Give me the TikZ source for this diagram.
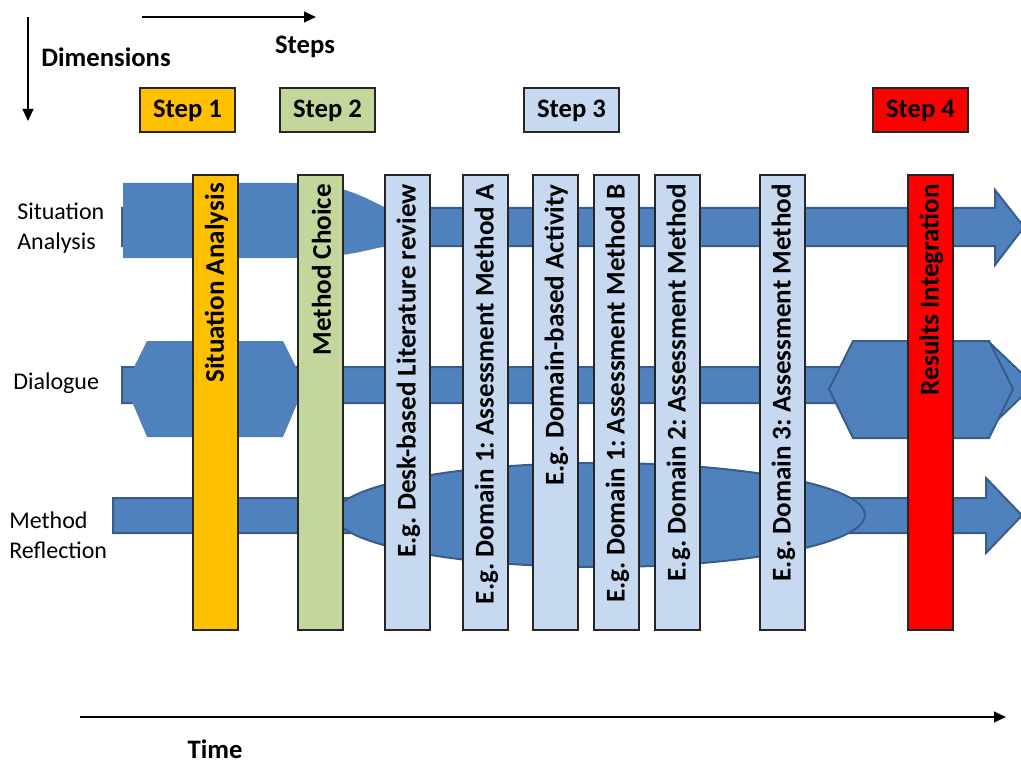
\documentclass[tikz,border=0pt]{standalone}
\usepackage{fontspec}
\setmainfont{Carlito}
\usetikzlibrary{arrows.meta}
\definecolor{arrowblue}{HTML}{4F81BD}
\definecolor{arrowedge}{HTML}{385D8A}
\definecolor{stepone}{HTML}{FFC000}
\definecolor{steptwo}{HTML}{C3D69B}
\definecolor{stepthree}{HTML}{C6D9F1}
\definecolor{stepfour}{HTML}{FF0000}
\frenchspacing
\begin{document}
\begin{tikzpicture}[x=0.75pt,y=-0.75pt,
  blk/.style={fill=arrowblue, draw=arrowedge, line width=1.5pt, line join=miter},
  blkfill/.style={fill=arrowblue},
  col/.style={draw=black!85, line width=0.8pt, minimum width=33.75pt,
    minimum height=341.25pt, inner sep=0pt},
  coltext/.style={rotate=90, anchor=east, inner sep=0pt,
    font=\fontsize{20.3}{24}\selectfont\bfseries},
  stepbox/.style={draw=black!85, line width=0.8pt, minimum width=71.25pt, minimum height=33pt,
    inner sep=0pt, text height=13pt, text depth=1pt, font=\fontsize{20}{24}\selectfont\bfseries},
  dimlabel/.style={anchor=west, align=left, inner sep=0pt, font=\fontsize{18}{22.5}\selectfont},
  bigarrow/.style={line width=1.5pt, -{Triangle[length=9pt,width=8pt]}},
  title/.style={inner sep=0pt, font=\fontsize{20}{24}\selectfont\bfseries}
]
\useasboundingbox (0,0) rectangle (1021,763);

% ---- Row 1: Situation Analysis arrow ----
\draw[blk] (122,208) -- (995,208) -- (995,190) -- (1024,227) -- (995,265) -- (995,246) -- (122,246) -- cycle;
\fill[blkfill] (123,183) -- (290,183) .. controls (340,183) and (360,195) .. (386,208)
  -- (386,246) .. controls (360,252) and (340,258) .. (290,258) -- (123,258) -- cycle;

% ---- Row 2: Dialogue arrow ----
\draw[blk] (122,367) -- (990,367) -- (990,343) -- (1034,385) -- (990,427) -- (990,403) -- (122,403) -- cycle;
\fill[blkfill] (125,385) -- (147,341) -- (283,341) -- (305,385) -- (283,437) -- (147,437) -- cycle;
\draw[blk] (829,389) -- (853,341) -- (989,341) -- (1013,389) -- (989,438) -- (853,438) -- cycle;

% ---- Row 3: Method Reflection arrow ----
\draw[blk] (113,498) -- (986,498) -- (986,478) -- (1022,515.5) -- (986,553) -- (986,533) -- (113,533) -- cycle;
\draw[blk] (600,515) ellipse [x radius=265, y radius=52];

% ---- Columns ----
\node[col, fill=stepone]   (c1) at (215.5,402.5) {};
\node[col, fill=steptwo]   (c2) at (320.5,402.5) {};
\node[col, fill=stepthree] (c3) at (407.5,402.5) {};
\node[col, fill=stepthree] (c4) at (485.5,402.5) {};
\node[col, fill=stepthree] (c5) at (555.5,402.5) {};
\node[col, fill=stepthree] (c6) at (616.5,402.5) {};
\node[col, fill=stepthree] (c7) at (677.5,402.5) {};
\node[col, fill=stepthree] (c8) at (782.5,402.5) {};
\node[col, fill=stepfour]  (c9) at (930.5,402.5) {};

\node[coltext] (t1) at (216.5,183) {Situation Analysis};
\node[coltext] (t2) at (321.5,184) {Method Choice};
\node[coltext] (t3) at (408.5,184) {E.g. Desk-based Literature review};
\node[coltext] (t4) at (486.5,184) {E.g. Domain 1: Assessment Method A};
\node[coltext] (t5) at (556.5,184) {E.g. Domain-based Activity};
\node[coltext] (t6) at (617.5,184) {E.g. Domain 1: Assessment Method B};
\node[coltext] (t7) at (678.5,184) {E.g. Domain 2: Assessment Method};
\node[coltext] (t8) at (783.5,184) {E.g. Domain 3: Assessment Method};
\node[coltext] (t9) at (931.5,184) {Results Integration};

% ---- Step boxes ----
\node[stepbox, fill=stepone]   (s1) at (187.5,110) {Step 1};
\node[stepbox, fill=steptwo]   (s2) at (327.5,110) {Step 2};
\node[stepbox, fill=stepthree] (s3) at (571.5,110) {Step 3};
\node[stepbox, fill=stepfour]  (s4) at (920.5,110) {Step 4};

% ---- Row labels ----
\node[dimlabel] (l1) at (17,228) {Situation\\Analysis};
\node[dimlabel] (l2) at (13,383) {Dialogue};
\node[dimlabel] (l3) at (9,535) {Method\\Reflection};

% ---- Axes ----
\coordinate (sa) at (142,17);
\coordinate (sb) at (316,17);
\draw[bigarrow] (sa) -- (sb);
\node[title] (steps) at (305,47) {Steps};

\coordinate (da) at (28,17);
\coordinate (db) at (28,121);
\draw[bigarrow] (da) -- (db);
\node[title] (dims) at (106,57) {Dimensions};

\coordinate (ta) at (80,717);
\coordinate (tb) at (1006,717);
\draw[bigarrow] (ta) -- (tb);
\node[title] (time) at (215,749) {Time};
\end{tikzpicture}
\end{document}
